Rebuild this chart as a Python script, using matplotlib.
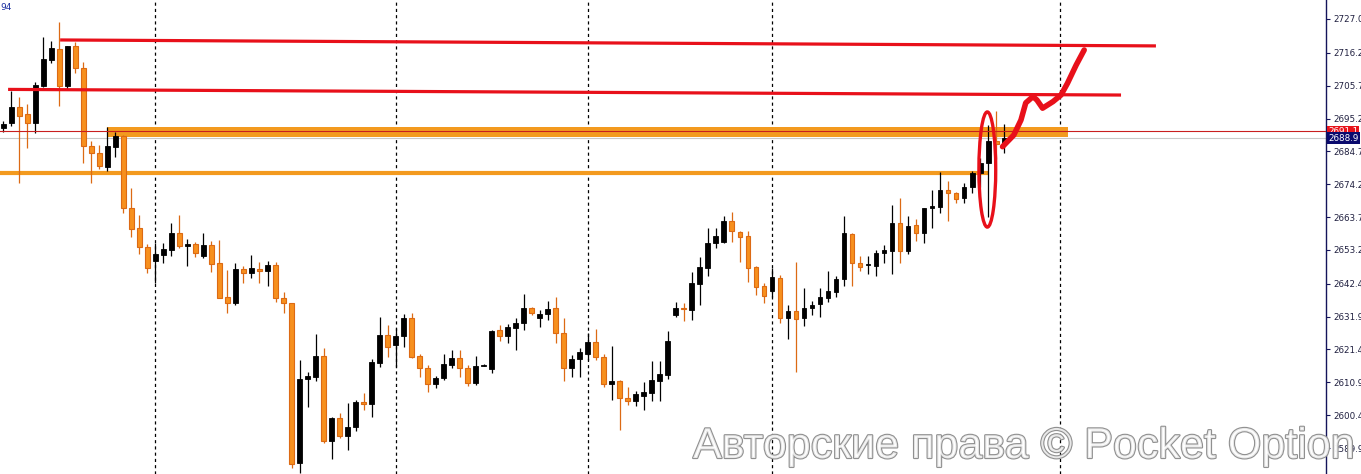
import matplotlib
matplotlib.use("Agg")
import matplotlib.pyplot as plt
import matplotlib.patheffects as pe
from matplotlib.patches import Ellipse
import numpy as np

# candles: open, high, low, close (black = up, orange = down)
opens = [2692.1, 2693.8, 2698.9, 2696.6, 2693.8, 2705.6, 2713.9, 2717.4, 2705.6, 2718.4,
         2711.3, 2686.4, 2684.2, 2679.7, 2686.1, 2689.6, 2666.6, 2660.2, 2654.1, 2649.7,
         2651.6, 2653.2, 2658.6, 2654.5, 2655.1, 2651.3, 2654.8, 2649.0, 2638.1, 2636.2,
         2647.1, 2645.8, 2647.1, 2646.5, 2648.4, 2637.8, 2636.2, 2585.1, 2612.0, 2612.6,
         2619.3, 2592.1, 2599.5, 2593.8, 2596.7, 2604.6, 2604.0, 2617.1, 2626.0, 2622.8,
         2625.7, 2631.4, 2619.3, 2615.5, 2610.4, 2612.3, 2616.4, 2618.7, 2615.5, 2610.7,
         2616.2, 2615.1, 2627.6, 2625.7, 2628.3, 2629.9, 2634.6, 2631.4, 2632.7, 2634.6,
         2626.6, 2615.5, 2618.3, 2620.0, 2623.8, 2619.0, 2610.4, 2611.3, 2605.9, 2604.9,
         2606.5, 2607.5, 2611.3, 2613.3, 2632.4, 2634.6, 2634.0, 2642.3, 2647.4, 2655.4,
         2655.7, 2662.4, 2658.9, 2657.6, 2647.7, 2641.7, 2640.1, 2644.2, 2631.4, 2633.7,
         2631.4, 2634.6, 2635.9, 2637.8, 2639.7, 2643.9, 2658.3, 2649.0, 2648.4, 2648.1,
         2652.2, 2652.9, 2661.8, 2652.9, 2661.2, 2658.6, 2666.6, 2666.9, 2672.4, 2671.4,
         2669.8, 2673.3, 2677.8, 2681.0, 2688.0, 2687.4]
highs = [2694.4, 2704.0, 2702.1, 2699.8, 2706.9, 2721.2, 2720.0, 2726.0, 2718.4, 2719.6,
         2713.3, 2688.0, 2686.7, 2692.5, 2690.9, 2689.9, 2673.0, 2664.4, 2655.1, 2655.4,
         2655.4, 2661.8, 2664.4, 2656.7, 2655.7, 2658.6, 2656.0, 2656.4, 2646.8, 2649.0,
         2648.1, 2651.6, 2649.3, 2649.7, 2649.3, 2639.7, 2636.2, 2618.0, 2614.2, 2626.3,
         2621.9, 2599.8, 2601.1, 2604.3, 2605.3, 2607.5, 2618.3, 2631.8, 2629.2, 2628.3,
         2632.7, 2633.0, 2619.9, 2616.4, 2612.9, 2619.9, 2621.2, 2621.2, 2616.4, 2619.3,
         2616.7, 2627.6, 2629.2, 2629.5, 2631.4, 2639.1, 2635.0, 2634.0, 2636.9, 2638.1,
         2631.4, 2619.6, 2621.9, 2626.6, 2627.9, 2619.9, 2622.5, 2611.6, 2609.4, 2608.1,
         2611.0, 2617.7, 2617.7, 2627.3, 2636.6, 2636.2, 2646.1, 2650.9, 2660.2, 2660.2,
         2664.0, 2665.3, 2659.2, 2659.2, 2648.1, 2642.6, 2647.4, 2645.2, 2635.6, 2649.3,
         2641.0, 2636.9, 2641.0, 2646.5, 2644.9, 2664.0, 2658.6, 2651.3, 2651.3, 2653.2,
         2654.8, 2667.6, 2669.8, 2664.0, 2663.1, 2666.6, 2672.4, 2678.1, 2675.2, 2671.7,
         2674.6, 2678.4, 2682.6, 2693.1, 2697.7, 2693.4]
lows = [2690.9, 2692.8, 2674.6, 2685.8, 2690.6, 2705.3, 2712.9, 2699.2, 2704.6, 2709.7,
        2681.0, 2674.6, 2679.1, 2678.4, 2682.9, 2665.0, 2657.3, 2651.9, 2645.8, 2642.6,
        2649.0, 2651.3, 2653.8, 2648.1, 2651.0, 2650.6, 2646.1, 2637.8, 2633.0, 2635.6,
        2642.6, 2644.2, 2642.6, 2641.7, 2636.6, 2633.0, 2583.5, 2581.9, 2603.0, 2611.3,
        2591.5, 2586.4, 2593.2, 2589.3, 2595.3, 2602.1, 2599.8, 2615.8, 2619.0, 2615.8,
        2622.2, 2618.7, 2612.6, 2607.8, 2609.1, 2611.6, 2615.5, 2612.6, 2609.8, 2610.1,
        2616.1, 2613.9, 2624.1, 2623.4, 2621.2, 2627.6, 2632.4, 2628.6, 2630.8, 2623.4,
        2611.3, 2612.6, 2612.6, 2618.0, 2618.0, 2609.4, 2605.3, 2595.7, 2603.6, 2603.3,
        2602.1, 2604.9, 2604.9, 2612.0, 2631.8, 2630.5, 2630.8, 2635.6, 2644.9, 2653.8,
        2655.4, 2655.7, 2649.3, 2643.0, 2638.8, 2636.2, 2638.1, 2629.8, 2624.7, 2614.2,
        2628.9, 2632.4, 2631.8, 2636.6, 2638.1, 2641.7, 2641.7, 2646.5, 2645.5, 2644.9,
        2649.0, 2645.5, 2649.0, 2651.9, 2656.0, 2655.4, 2660.2, 2665.0, 2662.4, 2668.2,
        2668.2, 2671.4, 2673.3, 2663.8, 2682.3, 2684.2]
closes = [2693.4, 2698.9, 2696.0, 2693.8, 2705.9, 2714.2, 2717.7, 2705.6, 2718.4, 2711.3,
          2686.4, 2684.2, 2680.0, 2686.4, 2689.6, 2666.6, 2659.9, 2654.1, 2647.4, 2651.9,
          2653.5, 2658.6, 2654.5, 2655.1, 2652.2, 2654.8, 2648.7, 2637.8, 2636.2, 2647.1,
          2645.8, 2647.4, 2646.5, 2648.4, 2637.8, 2636.2, 2584.8, 2612.0, 2612.9, 2619.3,
          2592.1, 2599.5, 2593.8, 2596.7, 2604.6, 2604.0, 2617.4, 2626.0, 2622.2, 2625.7,
          2631.4, 2619.0, 2615.5, 2610.4, 2612.3, 2616.7, 2618.7, 2615.5, 2610.7, 2616.1,
          2616.5, 2627.3, 2625.7, 2628.6, 2629.9, 2634.6, 2633.0, 2632.7, 2634.3, 2626.6,
          2615.5, 2618.3, 2620.6, 2623.8, 2619.0, 2610.4, 2611.3, 2605.9, 2604.9, 2607.2,
          2607.8, 2611.6, 2613.5, 2624.1, 2634.6, 2634.2, 2642.6, 2647.7, 2655.4, 2657.6,
          2662.4, 2659.2, 2657.3, 2647.4, 2641.4, 2638.5, 2644.5, 2631.4, 2633.7, 2631.1,
          2634.6, 2635.6, 2638.2, 2640.1, 2643.9, 2658.6, 2649.0, 2647.7, 2648.7, 2652.2,
          2653.2, 2661.8, 2652.9, 2660.8, 2658.6, 2666.6, 2667.3, 2672.4, 2671.4, 2669.5,
          2673.3, 2677.8, 2681.0, 2688.0, 2687.1, 2689.0]

yticks = [2727.0, 2716.2, 2705.7, 2695.2, 2684.7, 2674.2, 2663.7, 2653.2,
          2642.4, 2631.9, 2621.4, 2610.9, 2600.4, 2589.9]
separators = [19, 49, 73, 96, 132]
bid, ask = 2691.1, 2688.9

# drawn levels (bar index, price)
red_lines = [((7.1, 143.96), (2720.3, 2718.4)),
             ((0.6, 139.6), (2704.5, 2702.7))]
band_x = (12.96, 132.96)
band_y = (2689.3, 2692.5)
orange_line_x = (-0.4, 122.96)
orange_line_y = 2677.7
ellipse_xy = (122.9, 2678.9)
ellipse_w, ellipse_h = 2.1, 36.8
curve_x = [124.8, 126.2, 127.1, 127.7, 128.6, 129.1, 129.8, 131.1, 132.1, 132.9, 134.0, 135.0]
curve_y = [2686.2, 2689.9, 2694.7, 2700.2, 2702.2, 2701.1, 2698.5, 2700.6, 2702.7, 2706.4, 2712.3, 2717.1]

ORANGE = '#F7901E'
ORANGE_EDGE = '#DC6A14'
RED = '#E8101A'

fig = plt.figure(figsize=(13.61, 4.74), dpi=100)
ax = fig.add_axes([0, 0, 1326 / 1361, 1])
ax.set_xlim(-0.41, 165.2)
ax.set_ylim(2581.6, 2733.07)

x = np.arange(len(opens))
o = np.array(opens); c = np.array(closes)
up = c >= o
bottoms = np.minimum(o, c)
heights = np.maximum(np.abs(c - o), 0.35)

ax.vlines(x[up], np.array(lows)[up], np.array(highs)[up], color='black', lw=0.9, zorder=3)
ax.vlines(x[~up], np.array(lows)[~up], np.array(highs)[~up], color=ORANGE_EDGE, lw=0.9, zorder=3)
ax.bar(x[up], heights[up], bottom=bottoms[up], width=0.6, color='black',
       edgecolor='black', lw=0.6, zorder=4)
ax.bar(x[~up], heights[~up], bottom=bottoms[~up], width=0.6, color=ORANGE,
       edgecolor=ORANGE_EDGE, lw=0.8, zorder=4)

for s in separators:
    ax.axvline(s, color='black', lw=0.9, ls=(0, (2.5, 2.5)), zorder=1)

# price lines
ax.axhline(bid, color='#C81E1E', lw=0.8, zorder=5)
ax.axhline(ask, color='#C8C8C8', lw=0.8, zorder=1)

ax.fill_between(band_x, band_y[0], band_y[1], color='#F39A1E', lw=0, zorder=2)
ax.plot(orange_line_x, [orange_line_y] * 2, color='#F39A1E', lw=3, zorder=2,
        solid_capstyle='butt')
for lx, ly in red_lines:
    ax.plot(lx, ly, color=RED, lw=2.3, zorder=5, solid_capstyle='butt')

ax.add_patch(Ellipse(ellipse_xy, ellipse_w, ellipse_h, fill=False, ec=RED, lw=2.4, zorder=6))
ax.plot(curve_x, curve_y, color=RED, lw=4, zorder=6, solid_capstyle='round',
        solid_joinstyle='round')

# axis styling
for sp in ['top', 'left', 'bottom']:
    ax.spines[sp].set_visible(False)
ax.spines['right'].set_color('#14145a')
ax.spines['right'].set_linewidth(1)
ax.set_xticks([])
ax.yaxis.tick_right()
ax.set_yticks(yticks)
ax.set_yticklabels([f'{v:.1f}' for v in yticks])
ax.tick_params(axis='y', direction='out', length=3, width=0.8, color='#14145a',
               labelsize=6.3, labelcolor='#202040', pad=2)

ax.text(1.0015, bid, f'{bid:.1f}', transform=ax.get_yaxis_transform(), fontsize=6.3,
        color='white', va='center', ha='left', clip_on=False, zorder=10,
        bbox=dict(boxstyle='square,pad=0.15', fc='#E8131B', ec='none'))
ax.text(1.0015, ask, f'{ask:.1f}', transform=ax.get_yaxis_transform(), fontsize=6.3,
        color='white', va='center', ha='left', clip_on=False, zorder=11,
        bbox=dict(boxstyle='square,pad=0.15', fc='#0A0A6E', ec='none'))

fig.text(0.0, 1 - 7 / 474, '94', fontsize=6.5, color='#1A2EA0', va='center', ha='left')

fig.text(693 / 1361, 1 - 458 / 474, 'Авторские права © Pocket Option',
         family=['Liberation Sans', 'DejaVu Sans'], fontsize=31,
         color=(1, 1, 1, 0.8), va='baseline', ha='left', zorder=20,
         path_effects=[pe.Stroke(linewidth=1.6, foreground='#909090'), pe.Normal()])

fig.savefig('out.png', dpi=100)
